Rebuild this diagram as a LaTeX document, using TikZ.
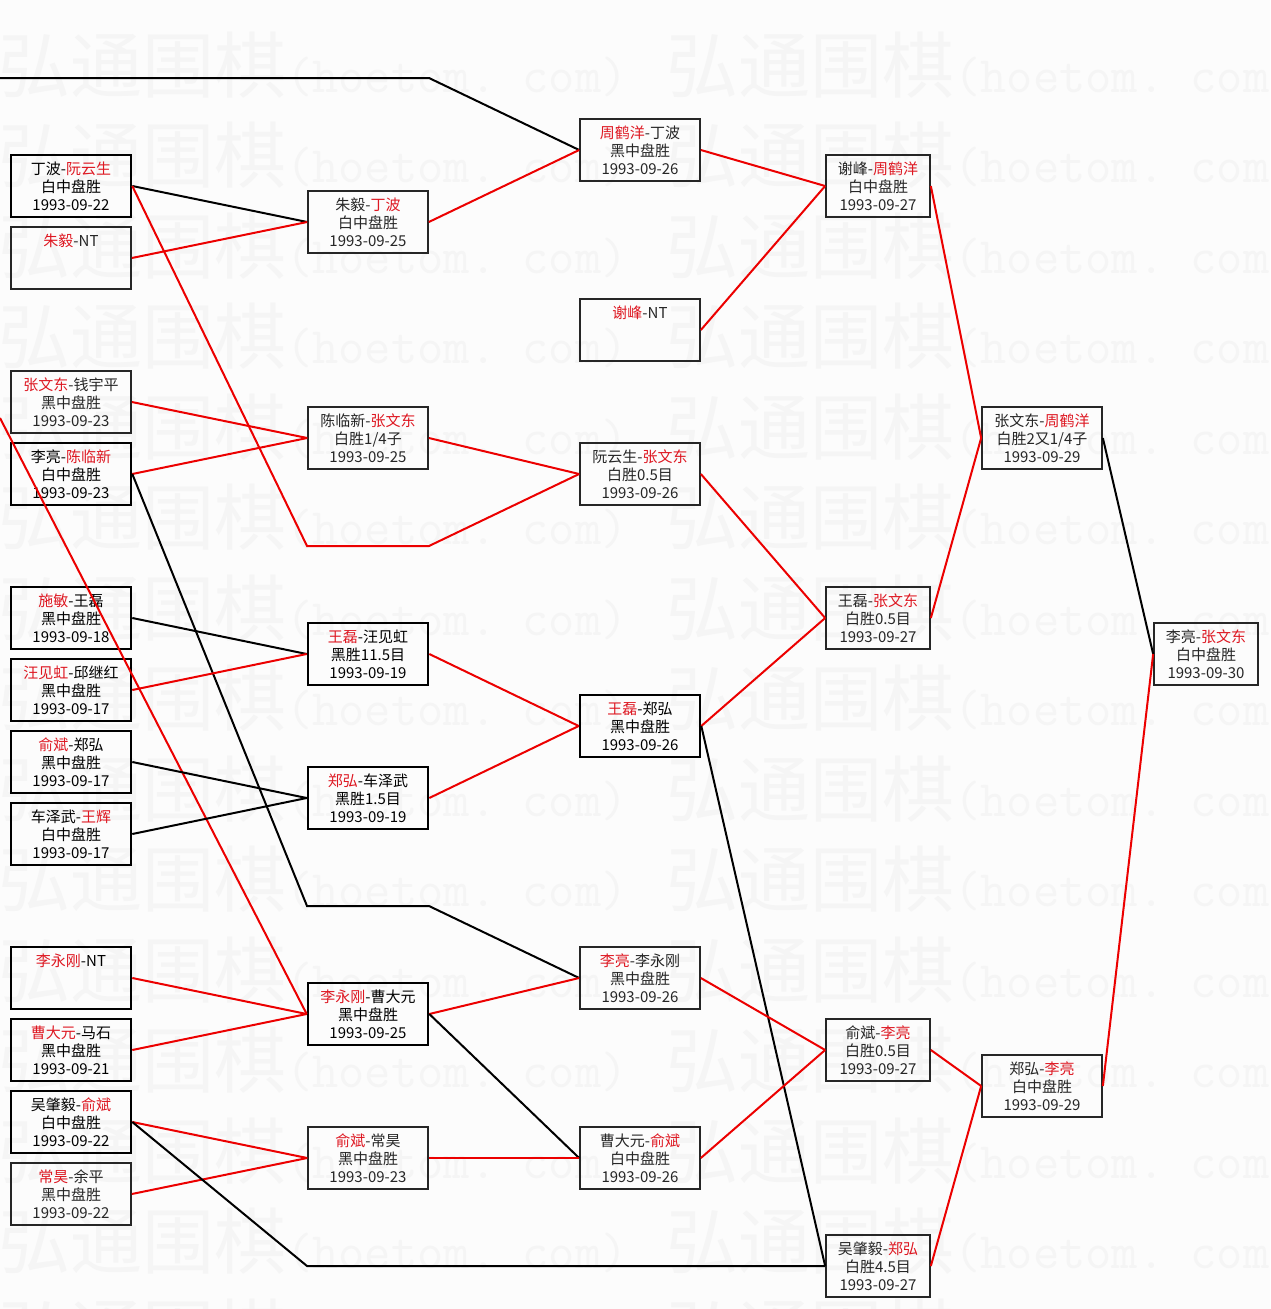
\documentclass[tikz,border=0pt]{standalone}
\usepackage{fontspec}
\newfontfamily\cjk{Noto Sans CJK SC}
\definecolor{winred}{RGB}{222,24,34}
\definecolor{linered}{RGB}{236,0,0}
\newcommand\wn[1]{\textcolor{winred}{#1}}

\begin{document}
\begin{tikzpicture}[x=1pt,y=-1pt,
  box/.style={draw=black!85,line width=1.7pt,minimum width=120pt,minimum height=62pt,inner sep=0pt,align=center,text=black!85,font=\fontsize{15}{18}\selectfont\cjk},
  hbox/.style={box,draw=black,line width=2.6pt,text=black},
  nbox/.style={minimum width=104pt},
  lost/.style={black,line width=2pt},
  won/.style={linered,line width=2pt},
  wm/.style={inner sep=0pt,anchor=west,text=black!4,font=\fontsize{72}{72}\selectfont\cjk}]

\useasboundingbox (0,0) rectangle (1270,1309);
\fill[black!1] (0,0) rectangle (1270,1309);

\foreach \k in {0,...,14}{
  \node[wm] (wa\k) at (-2,65+90.5*\k) {弘通围棋{\ttfamily\fontsize{51}{51}\selectfont(hoetom.\ com)}};
  \node[wm] (wb\k) at (666,65+90.5*\k) {弘通围棋{\ttfamily\fontsize{51}{51}\selectfont(hoetom.\ com)}};
}

\node[hbox] (A1) at (71,186) {丁波-\wn{阮云生}\\白中盘胜\\1993-09-22};
\node[box] (A2) at (71,258) {\wn{朱毅}-NT\\\mbox{}\\\mbox{}};
\node[box] (A3) at (71,402) {\wn{张文东}-钱宇平\\黑中盘胜\\1993-09-23};
\node[hbox] (A4) at (71,474) {李亮-\wn{陈临新}\\白中盘胜\\1993-09-23};
\node[hbox] (A5) at (71,618) {\wn{施敏}-王磊\\黑中盘胜\\1993-09-18};
\node[hbox] (A6) at (71,690) {\wn{汪见虹}-邱继红\\黑中盘胜\\1993-09-17};
\node[hbox] (A7) at (71,762) {\wn{俞斌}-郑弘\\黑中盘胜\\1993-09-17};
\node[hbox] (A8) at (71,834) {车泽武-\wn{王辉}\\白中盘胜\\1993-09-17};
\node[hbox] (A9) at (71,978) {\wn{李永刚}-NT\\\mbox{}\\\mbox{}};
\node[hbox] (A10) at (71,1050) {\wn{曹大元}-马石\\黑中盘胜\\1993-09-21};
\node[hbox] (A11) at (71,1122) {吴肇毅-\wn{俞斌}\\白中盘胜\\1993-09-22};
\node[box] (A12) at (71,1194) {\wn{常昊}-余平\\黑中盘胜\\1993-09-22};

\node[box] (B1) at (368,222) {朱毅-\wn{丁波}\\白中盘胜\\1993-09-25};
\node[box] (B2) at (368,438) {陈临新-\wn{张文东}\\白胜1/4子\\1993-09-25};
\node[hbox] (B3) at (368,654) {\wn{王磊}-汪见虹\\黑胜11.5目\\1993-09-19};
\node[hbox] (B4) at (368,798) {\wn{郑弘}-车泽武\\黑胜1.5目\\1993-09-19};
\node[hbox] (B5) at (368,1014) {\wn{李永刚}-曹大元\\黑中盘胜\\1993-09-25};
\node[box] (B6) at (368,1158) {\wn{俞斌}-常昊\\黑中盘胜\\1993-09-23};

\node[box] (C1) at (640,150) {\wn{周鹤洋}-丁波\\黑中盘胜\\1993-09-26};
\node[box] (C2) at (640,330) {\wn{谢峰}-NT\\\mbox{}\\\mbox{}};
\node[box] (C3) at (640,474) {阮云生-\wn{张文东}\\白胜0.5目\\1993-09-26};
\node[hbox] (C4) at (640,726) {\wn{王磊}-郑弘\\黑中盘胜\\1993-09-26};
\node[box] (C5) at (640,978) {\wn{李亮}-李永刚\\黑中盘胜\\1993-09-26};
\node[box] (C6) at (640,1158) {曹大元-\wn{俞斌}\\白中盘胜\\1993-09-26};

\node[box,nbox] (D1) at (878,186) {谢峰-\wn{周鹤洋}\\白中盘胜\\1993-09-27};
\node[box,nbox] (D2) at (878,618) {王磊-\wn{张文东}\\白胜0.5目\\1993-09-27};
\node[box,nbox] (D3) at (878,1050) {俞斌-\wn{李亮}\\白胜0.5目\\1993-09-27};
\node[box,nbox] (D4) at (878,1266) {吴肇毅-\wn{郑弘}\\白胜4.5目\\1993-09-27};

\node[box] (E1) at (1042,438) {张文东-\wn{周鹤洋}\\白胜2又1/4子\\1993-09-29};
\node[box] (E2) at (1042,1086) {郑弘-\wn{李亮}\\白中盘胜\\1993-09-29};

\node[box,nbox] (F) at (1206,654) {李亮-\wn{张文东}\\白中盘胜\\1993-09-30};

\coordinate (K1) at (307,546);
\coordinate (K2) at (429,546);
\coordinate (K3) at (307,906);
\coordinate (K4) at (429,906);
\coordinate (K5) at (307,1266);
\coordinate (K6) at (0,78);
\coordinate (K7) at (429,78);
\coordinate (K8) at (0,418);

\draw[lost] (K6) -- (K7) -- (C1.west);
\draw[lost] (A1.east) -- (B1.west);
\draw[won] (A2.east) -- (B1.west);
\draw[won] (A1.east) -- (K1) -- (K2) -- (C3.west);
\draw[won] (A3.east) -- (B2.west);
\draw[won] (A4.east) -- (B2.west);
\draw[lost] (A4.east) -- (K3) -- (K4) -- (C5.west);
\draw[won] (K8) -- (B5.west);
\draw[lost] (A5.east) -- (B3.west);
\draw[won] (A6.east) -- (B3.west);
\draw[lost] (A7.east) -- (B4.west);
\draw[lost] (A8.east) -- (B4.west);
\draw[won] (A9.east) -- (B5.west);
\draw[won] (A10.east) -- (B5.west);
\draw[won] (A11.east) -- (B6.west);
\draw[won] (A12.east) -- (B6.west);
\draw[lost] (A11.east) -- (K5) -- (D4.west);

\draw[won] (B1.east) -- (C1.west);
\draw[won] (B2.east) -- (C3.west);
\draw[won] (B3.east) -- (C4.west);
\draw[won] (B4.east) -- (C4.west);
\draw[won] (B5.east) -- (C5.west);
\draw[lost] (B5.east) -- (C6.west);
\draw[won] (B6.east) -- (C6.west);

\draw[won] (C1.east) -- (D1.west);
\draw[won] (C2.east) -- (D1.west);
\draw[won] (C3.east) -- (D2.west);
\draw[won] (C4.east) -- (D2.west);
\draw[lost] (C4.east) -- (D4.west);
\draw[won] (C5.east) -- (D3.west);
\draw[won] (C6.east) -- (D3.west);

\draw[won] (D1.east) -- (E1.west);
\draw[won] (D2.east) -- (E1.west);
\draw[won] (D3.east) -- (E2.west);
\draw[won] (D4.east) -- (E2.west);

\draw[lost] (E1.east) -- (F.west);
\draw[won] (E2.east) -- (F.west);

\end{tikzpicture}
\end{document}
